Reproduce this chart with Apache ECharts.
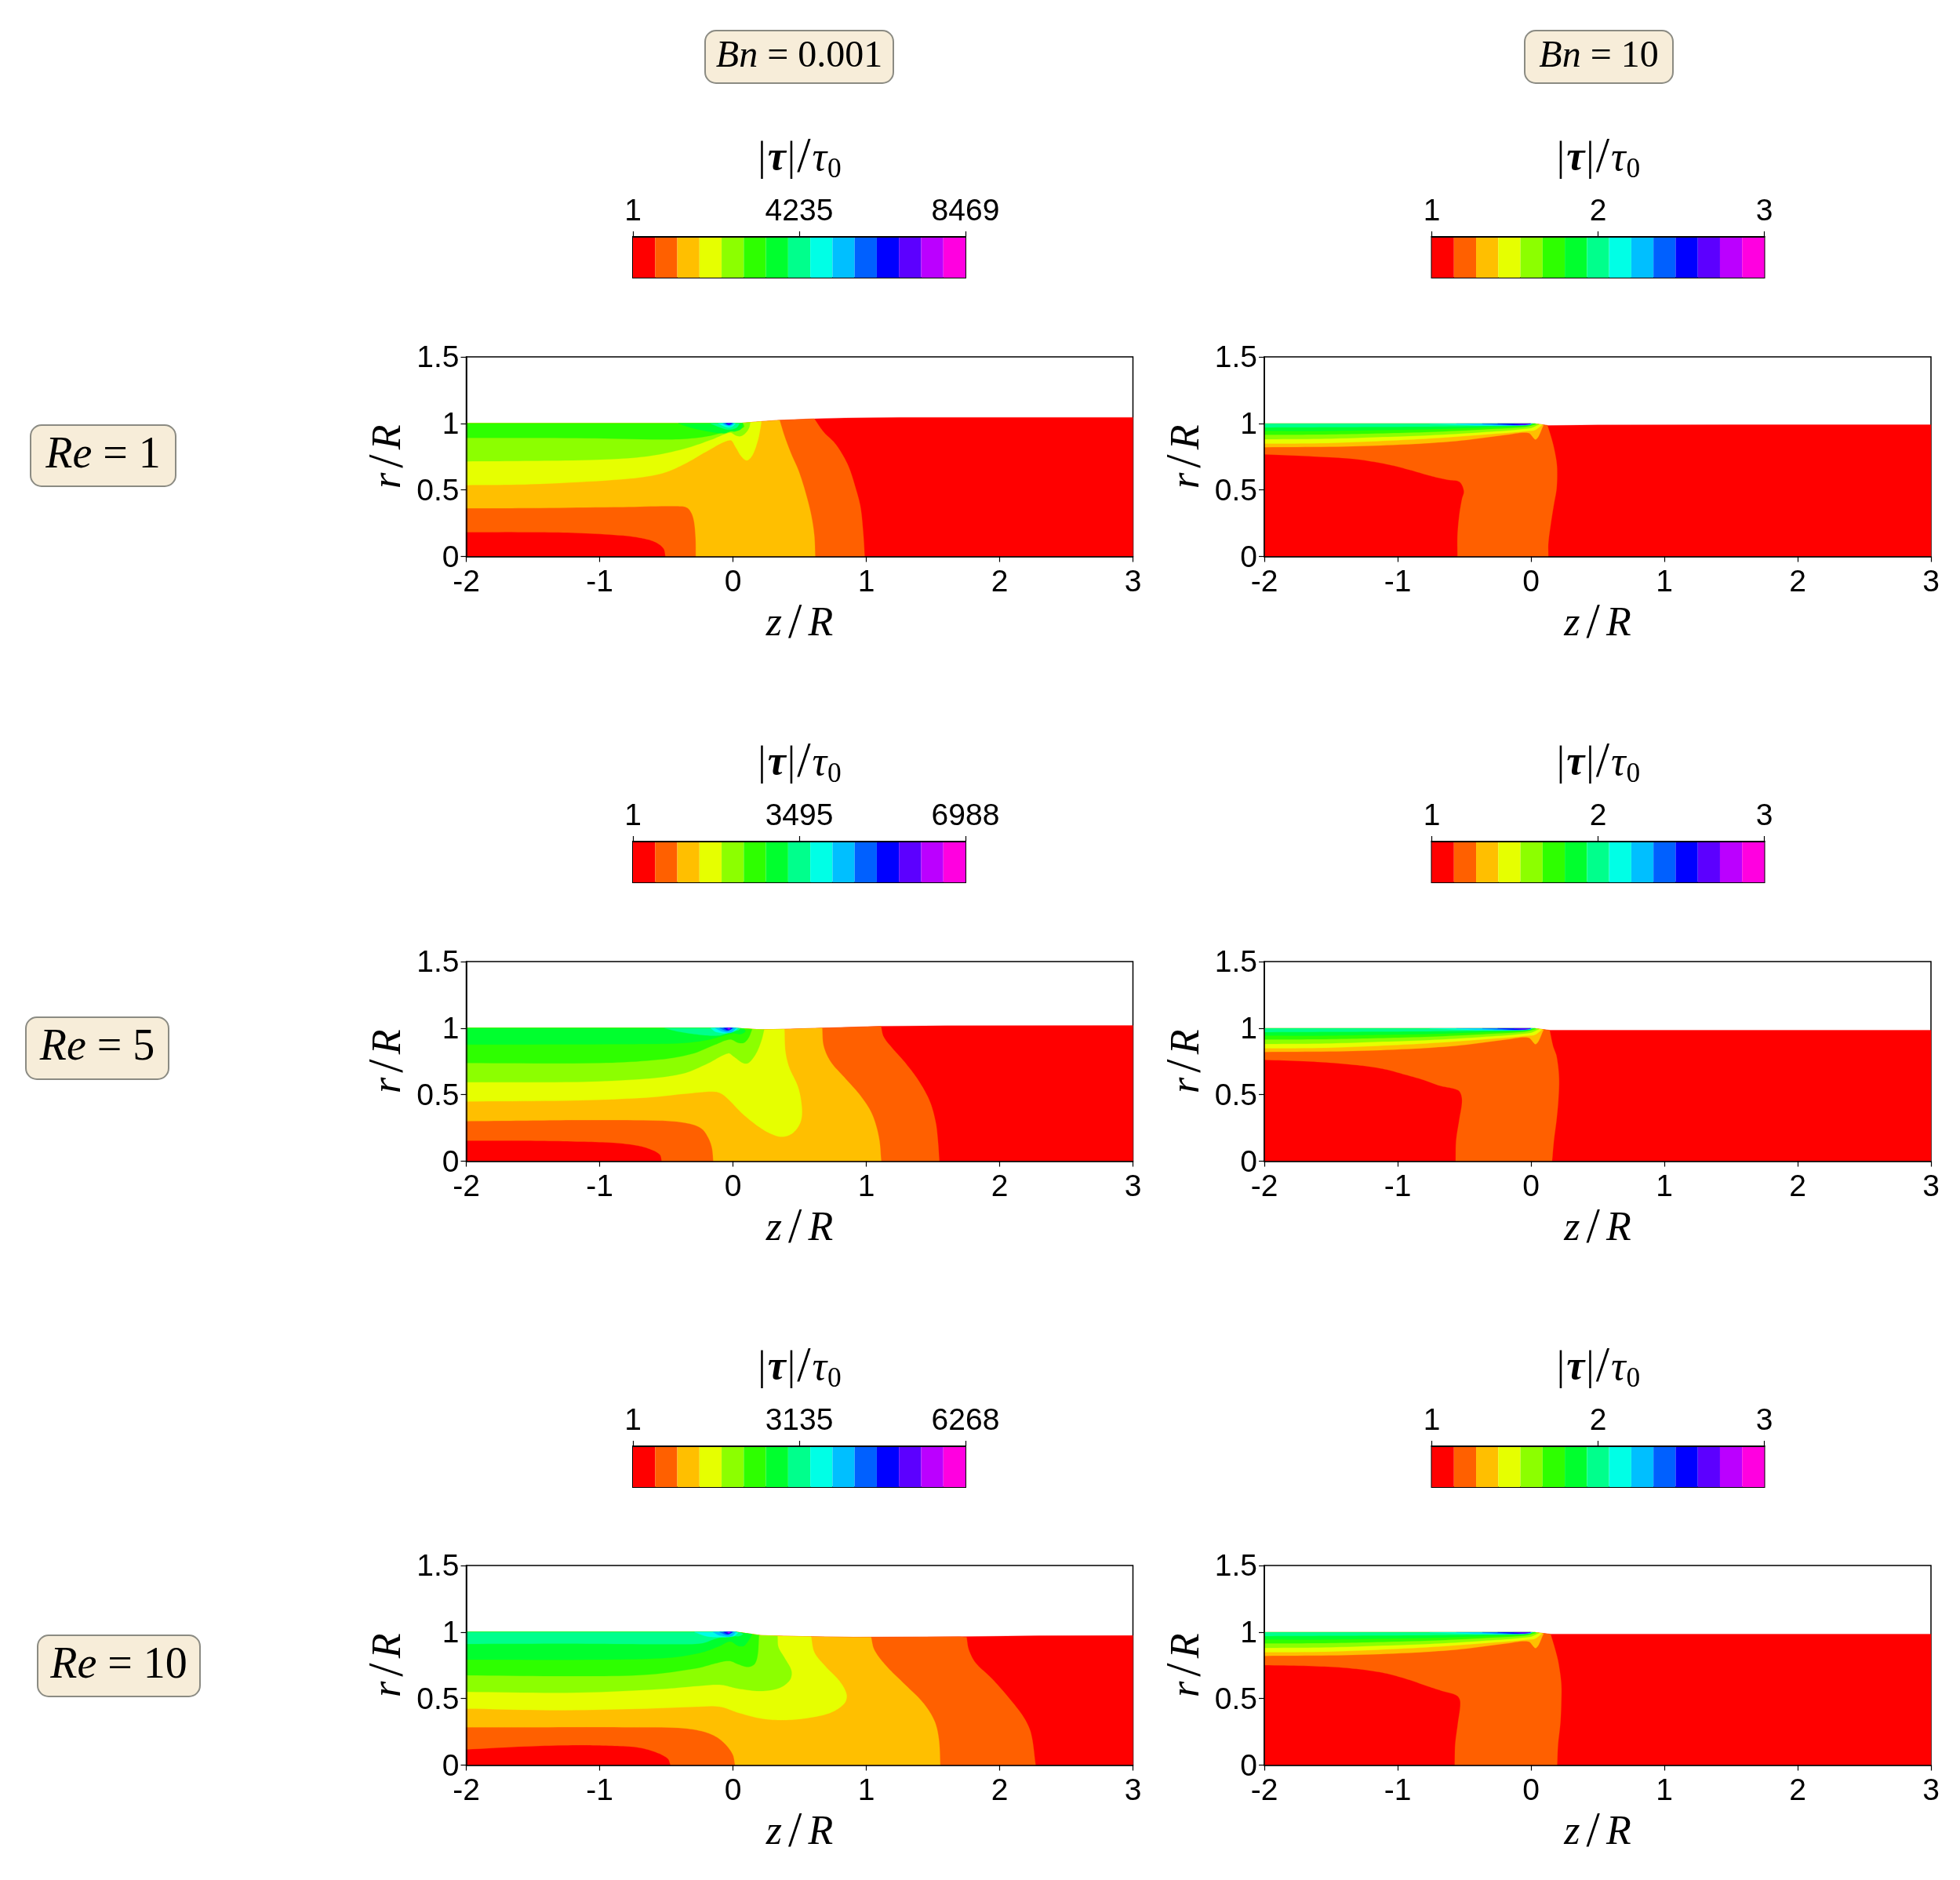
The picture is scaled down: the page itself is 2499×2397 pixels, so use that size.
<!DOCTYPE html>
<html><head><meta charset="utf-8">
<style>html,body{margin:0;padding:0;background:#fff}#c{width:2499px;height:2397px}</style>
<script src="https://cdn.jsdelivr.net/npm/echarts@6/dist/echarts.min.js"></script>
</head><body><div id="c"></div>
<script>
// ---- colour levels ----
const levelColors = ['#ff0000','#ff6000','#ffbf00','#e6ff00','#8cff00','#2eff00','#00ff2e','#00ff8c','#00ffe6','#00bfff','#0060ff','#0000ff','#5c00ff','#bb00ff','#ff00e0'];
const colorbarTicks = [[1,4235,8469],[1,2,3],[1,3495,6988],[1,2,3],[1,3135,6268],[1,2,3]];
const xTicksInterval = 1, yTicksInterval = 0.5;

// ---- free surfaces [z/R, r/R] ----
const surfRe1Bn001 = [[-2,1],[.04,1],[.21,1.014],[.35,1.024],[.61,1.035],[.84,1.041],[1.25,1.045],[3,1.045]];
const surfRe5Bn001 = [[-2,1],[.005,1],[.213,.988],[.386,.992],[.663,1],[1.11,1.014],[1.6,1.018],[3,1.02]];
const surfRe10Bn001 = [[-2,1],[.023,1],[.213,.974],[.49,.967],[.905,.961],[1.7,.965],[2.288,.972],[3,.974]];
const surfRe1Bn10 = [[-2,.997],[.03,.997],[.13,.984],[.5,.988],[1.5,.99],[3,.99]];
const surfRe5Bn10 = [[-2,.997],[.03,.997],[.14,.984],[3,.984]];
const surfRe10Bn10 = [[-2,.997],[.03,.997],[.147,.984],[3,.984]];

// ---- Re=1, Bn=0.001 contours (level index = position + 1) ----
const re1Bn001 = [
 [[-2,.183],[-1.516,.183],[-1.17,.177],[-.824,.157],[-.686,.138],[-.582,.108],[-.52,.059],[-.506,0],[.988,0],[.977,.177],[.956,.374],[.915,.531],[.87,.669],[.82,.768],[.76,.856],[.68,.935],[.61,1.035]],
 [[-2,.362],[-1.516,.364],[-.824,.372],[-.409,.378],[-.34,.364],[-.299,.295],[-.281,.157],[-.278,0],[.617,0],[.61,.157],[.586,.315],[.541,.492],[.49,.65],[.438,.768],[.386,.906],[.35,1.024]],
 [[-2,.537],[-1.516,.543],[-.824,.581],[-.548,.62],[-.375,.689],[-.202,.787],[-.022,.874],[.023,.817],[.057,.76],[.102,.722],[.144,.758],[.185,.866],[.206,.965],[.213,1.014]],
 [[-2,.715],[-1.516,.719],[-.997,.728],[-.651,.752],[-.375,.807],[-.167,.876],[-.022,.931],[.023,.909],[.057,.904],[.092,.925],[.12,.965],[.13,1.007]],
 [[-2,.892],[-1.17,.89],[-.478,.88],[-.237,.896],[-.064,.935],[-.012,.961],[.04,.955],[.082,.974],[.075,1.002]],
 [[-.409,1],[-.301,.964],[-.164,.936],[-.066,.926],[-.017,.94],[.016,.94],[.062,.96],[.072,1.001]],
 [[-.17,1],[-.11,.975],[-.05,.955],[-.01,.955],[.03,.97],[.05,1]],
 [[-.11,1],[-.07,.98],[-.03,.97],[0,.98],[.02,1]],
 [[-.08,1],[-.05,.985],[-.02,.98],[.01,1]],
 [[-.07,1],[-.03,.988],[0,1]],
 [[-.055,1],[-.03,.99],[-.005,1]],
 [[-.045,1],[-.03,.992],[-.015,1]]
];
// ---- Re=5, Bn=0.001 ----
const re5Bn001 = [
 [[-2,.154],[-1.516,.154],[-1.17,.148],[-.893,.138],[-.721,.118],[-.617,.089],[-.548,.049],[-.534,0],[1.548,0],[1.537,.157],[1.52,.295],[1.475,.453],[1.389,.61],[1.285,.748],[1.198,.846],[1.13,.935],[1.11,1.014]],
 [[-2,.301],[-1.585,.305],[-1.17,.309],[-.548,.305],[-.34,.285],[-.237,.246],[-.185,.177],[-.157,.098],[-.147,0],[1.112,0],[1.095,.177],[1.043,.354],[.956,.492],[.835,.63],[.732,.748],[.68,.866],[.669,1]],
 [[-2,.449],[-1.17,.457],[-.651,.478],[-.306,.512],[-.133,.522],[-.064,.492],[.075,.354],[.213,.246],[.317,.193],[.386,.185],[.455,.217],[.507,.295],[.517,.394],[.49,.551],[.42,.709],[.393,.827],[.386,.992]],
 [[-2,.594],[-1.17,.596],[-.651,.62],[-.375,.659],[-.202,.728],[-.036,.811],[.005,.787],[.075,.738],[.116,.738],[.172,.807],[.213,.906],[.234,.988]],
 [[-2,.738],[-.997,.738],[-.548,.764],[-.306,.807],[-.133,.876],[-.022,.915],[.04,.89],[.082,.89],[.116,.925],[.144,.992]],
 [[-2,.876],[-.824,.88],[-.409,.886],[-.202,.909],[-.064,.945],[.005,.961],[.057,.955],[.092,.974],[.082,.995]],
 [[-.513,1],[-.409,.974],[-.237,.949],[-.1,.945],[-.012,.974],[.04,.984],[.057,.999]],
 [[-.167,1],[-.133,.974],[-.064,.961],[.005,.974],[.04,1]],
 [[-.133,1],[-.08,.974],[-.012,.968],[.023,1]],
 [[-.1,1],[-.046,.98],[.005,1]],
 [[-.07,1],[-.036,.984],[-.005,1]],
 [[-.055,1],[-.03,.988],[-.01,1]],
 [[-.04,1],[-.03,.992],[-.02,1]]
];
// ---- Re=10, Bn=0.001 ----
const re10Bn001 = [
 [[-2,.118],[-1.516,.142],[-1.17,.15],[-.928,.146],[-.721,.134],[-.582,.098],[-.489,.049],[-.468,0],[2.27,0],[2.236,.236],[2.184,.354],[2.08,.492],[1.942,.65],[1.82,.768],[1.769,.866],[1.752,.961]],
 [[-2,.285],[-1.516,.285],[-.824,.285],[-.409,.28],[-.237,.256],[-.133,.217],[-.057,.157],[-.001,.079],[.016,0],[1.555,0],[1.544,.197],[1.51,.335],[1.423,.472],[1.285,.61],[1.147,.748],[1.06,.866],[1.036,.961]],
 [[-2,.425],[-1.308,.413],[-.651,.425],[-.271,.439],[-.098,.439],[.04,.394],[.213,.35],[.386,.339],[.559,.354],[.732,.394],[.835,.463],[.852,.531],[.8,.63],[.697,.738],[.611,.846],[.586,.965]],
 [[-2,.551],[-1.17,.545],[-.548,.571],[-.271,.594],[-.098,.604],[.04,.575],[.213,.557],[.351,.581],[.427,.64],[.438,.709],[.386,.807],[.341,.886],[.334,.969]],
 [[-2,.675],[-1.17,.669],[-.651,.679],[-.271,.728],[-.133,.764],[-.029,.783],[.04,.758],[.109,.738],[.161,.758],[.185,.827],[.195,.976]],
 [[-2,.793],[-.997,.793],[-.478,.807],[-.237,.846],[-.098,.896],[-.022,.929],[.04,.896],[.082,.896],[.116,.935],[.144,.984]],
 [[-2,.911],[-1.17,.913],[-.478,.909],[-.237,.915],[-.133,.949],[-.029,.974],[.04,.968],[.075,.984],[.065,.992]],
 [[-.288,1],[-.202,.969],[-.098,.961],[.005,.968],[.04,.995]],
 [[-.15,1],[-.098,.974],[-.012,.968],[.023,1]],
 [[-.1,1],[-.046,.98],[.005,1]],
 [[-.07,1],[-.036,.984],[-.005,1]],
 [[-.055,1],[-.03,.988],[-.01,1]],
 [[-.04,1],[-.03,.992],[-.02,1]]
];
// ---- Bn=10: first contour differs by Re; the boundary-layer contours are shared ----
const re1Bn10Orange = [[-2,.768],[-1.633,.752],[-1.322,.732],[-1.08,.693],[-.907,.65],[-.769,.61],[-.63,.577],[-.537,.561],[-.503,.492],[-.517,.433],[-.537,.315],[-.551,.157],[-.551,0],[.13,0],[.13,.098],[.147,.236],[.172,.394],[.192,.512],[.196,.65],[.189,.728],[.165,.846],[.13,.965],[.123,.986]];
const re5Bn10Orange = [[-2,.762],[-1.633,.748],[-1.322,.724],[-1.115,.695],[-.942,.65],[-.804,.61],[-.683,.567],[-.579,.545],[-.534,.522],[-.517,.453],[-.537,.315],[-.561,.157],[-.565,0],[.158,0],[.172,.157],[.192,.315],[.206,.472],[.21,.63],[.192,.787],[.165,.866],[.14,.984]];
const re10Bn10Orange = [[-2,.752],[-1.633,.744],[-1.357,.728],[-1.115,.695],[-.942,.65],[-.769,.591],[-.665,.557],[-.555,.522],[-.53,.472],[-.548,.315],[-.568,.157],[-.572,0],[.196,0],[.203,.157],[.22,.315],[.227,.472],[.227,.61],[.206,.768],[.182,.866],[.147,.984]];
const bn10Layers = [
 [[-2,.821],[-1.39,.827],[-.87,.846],[-.52,.872],[-.18,.915],[-.02,.929],[.037,.88],[.095,.989]],
 [[-2,.848],[-1.54,.852],[-1.15,.867],[-.76,.887],[-.365,.915],[-.01,.944],[.03,.95],[.085,.99]],
 [[-2,.881],[-1.54,.885],[-1.15,.897],[-.76,.911],[-.365,.934],[-.01,.964],[.06,.992]],
 [[-2,.915],[-1.54,.917],[-1.15,.925],[-.76,.936],[-.365,.954],[-.05,.973],[.04,.994]],
 [[-2,.944],[-1.54,.944],[-1.15,.95],[-.76,.956],[-.365,.97],[-.05,.983],[.03,.997]],
 [[-2,.97],[-1.54,.972],[-1.15,.974],[-.76,.976],[-.365,.981],[-.07,.985],[.01,.997]],
 [[-.76,.997],[-.365,.984],[-.07,.986],[.01,.997]],
 [[-.56,.997],[-.27,.986],[-.01,.987],[.005,.997]],
 [[-.365,.997],[-.13,.987],[0,.997]],
 [[-.25,.997],[-.09,.988],[-.005,.997]],
 [[-.13,.997],[-.05,.989],[-.005,.997]]
];

const panelDefs = [
 {surf:surfRe1Bn001, cs:re1Bn001},
 {surf:surfRe1Bn10, cs:[re1Bn10Orange].concat(bn10Layers)},
 {surf:surfRe5Bn001, cs:re5Bn001},
 {surf:surfRe5Bn10, cs:[re5Bn10Orange].concat(bn10Layers)},
 {surf:surfRe10Bn001, cs:re10Bn001},
 {surf:surfRe10Bn10, cs:[re10Bn10Orange].concat(bn10Layers)}
];
const boxLabels = [
 {t:'{i|Bn}{n| = 0.001}', x:899, y:39, w:240, h:67, s:48},
 {t:'{i|Bn}{n| = 10}', x:1944, y:39, w:189, h:67, s:48},
 {t:'{i|Re}{n| = 1}', x:39, y:542, w:185, h:78, s:56},
 {t:'{i|Re}{n| = 5}', x:33, y:1297, w:182, h:79, s:56},
 {t:'{i|Re}{n| = 10}', x:48, y:2085, w:207, h:78, s:56}
];

// ---- layout ----
const colX = [594.5, 1612], rowY = [455, 1226, 1996], plotW = 850, plotH = 254.5;
const barColX = [807, 1825.5], barRowY = [302, 1073, 1844], barW = 424, barH = 52;
const SANS = '"Liberation Sans", Arial, sans-serif', SERIF = '"Liberation Serif", serif';
const mathRich = (s, pad) => {
  const p = pad ? [0,pad,0,pad] : 0;
  return {
  i:{fontFamily:SERIF,fontStyle:'italic',fontSize:s,color:'#000',padding:p},
  n:{fontFamily:SERIF,fontSize:s,color:'#000',padding:p},
  b:{fontFamily:SERIF,fontStyle:'italic',fontWeight:'bold',fontSize:s,color:'#000',padding:p},
  l:{fontFamily:SERIF,fontSize:s*1.2,color:'#000',padding:p},
  s:{fontFamily:SERIF,fontSize:s*0.68,color:'#000',verticalAlign:'bottom'}
  };
};

// draws a contour's read points as a smooth curve (pixel space); points on the axis r=0 stay corners
function smoothPixels(contour, api){
  const out = [];
  let seg = [];
  const flush = () => {
    const P = seg.map(q => api.coord(q));
    const d = (a,b) => Math.hypot(a[0]-b[0], a[1]-b[1]) || 1e-6;
    const tan = i => {
      const a = P[Math.max(i-1,0)], b = P[Math.min(i+1,P.length-1)];
      const L = (i>0?d(P[i-1],P[i]):0) + (i<P.length-1?d(P[i],P[i+1]):0);
      return [(b[0]-a[0])/L, (b[1]-a[1])/L];
    };
    for (let i=0;i<P.length-1;i++){
      const L = d(P[i],P[i+1]), t0 = tan(i), t1 = tan(i+1);
      for (let k=0;k<10;k++){
        const u=k/10,u2=u*u,u3=u2*u;
        const h00=2*u3-3*u2+1,h10=u3-2*u2+u,h01=-2*u3+3*u2,h11=u3-u2;
        out.push([h00*P[i][0]+h10*L*t0[0]+h01*P[i+1][0]+h11*L*t1[0],
                  h00*P[i][1]+h10*L*t0[1]+h01*P[i+1][1]+h11*L*t1[1]]);
      }
    }
    out.push(P[P.length-1]);
  };
  contour.forEach((q,i) => {
    seg.push(q);
    if (q[1] === 0 && seg.length > 1) { flush(); seg = [q]; }
  });
  if (seg.length > 1) flush();
  return out;
}
function surfaceBack(contour, surf){
  const a = contour[0][0], b = contour[contour.length-1][0];
  return surf.filter(p => p[0] >= a && p[0] < b).reverse();
}

const grids=[], xAxes=[], yAxes=[], series=[], graphics=[];
const tickFont = 39;
panelDefs.forEach((pd, k) => {
  const col = k % 2, row = (k - col) / 2;
  grids.push({left:colX[col], top:rowY[row], width:plotW, height:plotH, show:true, borderColor:'#000', borderWidth:1.5, backgroundColor:'transparent', containLabel:false});
  const gi = grids.length - 1;
  xAxes.push({type:'value', gridIndex:gi, min:-2, max:3, interval:xTicksInterval, z:5,
    axisLine:{show:true,onZero:false,lineStyle:{color:'#000',width:1.5}},
    axisTick:{show:true,length:7,lineStyle:{color:'#000',width:1.2}},
    axisLabel:{show:true,fontFamily:SANS,fontSize:tickFont,color:'#000',margin:14,hideOverlap:false,showMinLabel:true,showMaxLabel:true},
    splitLine:{show:false},
    name:'{i|z}{l|/}{i|R}', nameLocation:'middle', nameGap:56, nameTextStyle:{rich:mathRich(52,4)}});
  yAxes.push({type:'value', gridIndex:gi, min:0, max:1.5, interval:yTicksInterval, z:5,
    axisLine:{show:true,onZero:false,lineStyle:{color:'#000',width:1.5}},
    axisTick:{show:true,length:7,lineStyle:{color:'#000',width:1.2}},
    axisLabel:{show:true,margin:9,hideOverlap:false,showMinLabel:true,showMaxLabel:true,
      formatter:v=>'{a|'+v+'}',
      rich:{a:{fontFamily:SANS,fontSize:tickFont,color:'#000',padding:[5,0,0,0]}}},
    splitLine:{show:false},
    name:'{i|r}{l|/}{i|R}', nameLocation:'middle', nameGap:64, nameTextStyle:{rich:mathRich(52,3)}});
  const polys = [{lv:0, c:pd.surf.concat([[3,0],[-2,0]]), straight:true}]
    .concat(pd.cs.map((c,i)=>({lv:i+1, c:c, back:surfaceBack(c,pd.surf)})));
  series.push({type:'custom', name:'panel'+k, xAxisIndex:gi, yAxisIndex:gi, coordinateSystem:'cartesian2d', z:2, silent:true, animation:false,
    data:polys.map(p=>[p.c[0][0],p.c[0][1],p.lv]),
    encode:{x:0,y:1},
    renderItem:(params, api)=>{
      const p = polys[params.dataIndex];
      const pts = p.straight ? p.c.map(q=>api.coord(q)) : smoothPixels(p.c,api).concat(p.back.map(q=>api.coord(q)));
      return {type:'polygon', shape:{points:pts}, style:{fill:levelColors[p.lv], stroke:levelColors[p.lv], lineWidth:0.3}};
    }});
  const ticks = colorbarTicks[k], lo = ticks[0], hi = ticks[2], step = (hi-lo)/levelColors.length;
  grids.push({left:barColX[col], top:barRowY[row], width:barW, height:barH, show:true, borderColor:'#000', borderWidth:2, containLabel:false});
  const bi = grids.length - 1;
  xAxes.push({type:'value', gridIndex:bi, position:'top', min:lo, max:hi, z:5,
    axisLine:{show:true,onZero:false,lineStyle:{color:'#000',width:2}},
    axisTick:{show:true,length:7,customValues:ticks,lineStyle:{color:'#000',width:1.2}},
    axisLabel:{show:true,customValues:ticks,fontFamily:SANS,fontSize:tickFont,color:'#000',margin:12,hideOverlap:false,formatter:v=>String(v)},
    splitLine:{show:false}});
  yAxes.push({type:'value', gridIndex:bi, min:0, max:1, show:false});
  series.push({type:'custom', name:'bar'+k, xAxisIndex:bi, yAxisIndex:bi, coordinateSystem:'cartesian2d', z:2, silent:true, animation:false,
    data:levelColors.map((c,i)=>[lo+i*step, lo+(i+1)*step]),
    encode:{x:[0,1]},
    renderItem:(params, api)=>{
      const a = api.coord([api.value(0),1]), b = api.coord([api.value(1),0]);
      return {type:'rect', shape:{x:a[0],y:a[1],width:b[0]-a[0],height:b[1]-a[1]}, style:{fill:levelColors[params.dataIndex]}};
    }});
  graphics.push({type:'text', z:10, x:barColX[col]+barW/2, y:barRowY[row]-99,
    style:{text:'{n||}{b|τ}{n||}{l|/}{i|τ}{s|0}', rich:mathRich(52,1), align:'center', verticalAlign:'middle', fill:'#000'}});
});
boxLabels.forEach(b=>{
  graphics.push({type:'rect', z:9, shape:{x:b.x,y:b.y,width:b.w,height:b.h,r:14}, style:{fill:'#f7edd9',stroke:'#8b8b83',lineWidth:2}});
  graphics.push({type:'text', z:10, x:b.x+b.w/2, y:b.y+b.h/2,
    style:{text:b.t, rich:mathRich(b.s), align:'center', verticalAlign:'middle', fill:'#000'}});
});

const chart = echarts.init(document.getElementById('c'), null, {renderer:'canvas', width:2499, height:2397});
chart.setOption({animation:false, backgroundColor:'#fff', tooltip:{show:false},
  grid:grids, xAxis:xAxes, yAxis:yAxes, series:series, graphic:graphics});
</script></body></html>
